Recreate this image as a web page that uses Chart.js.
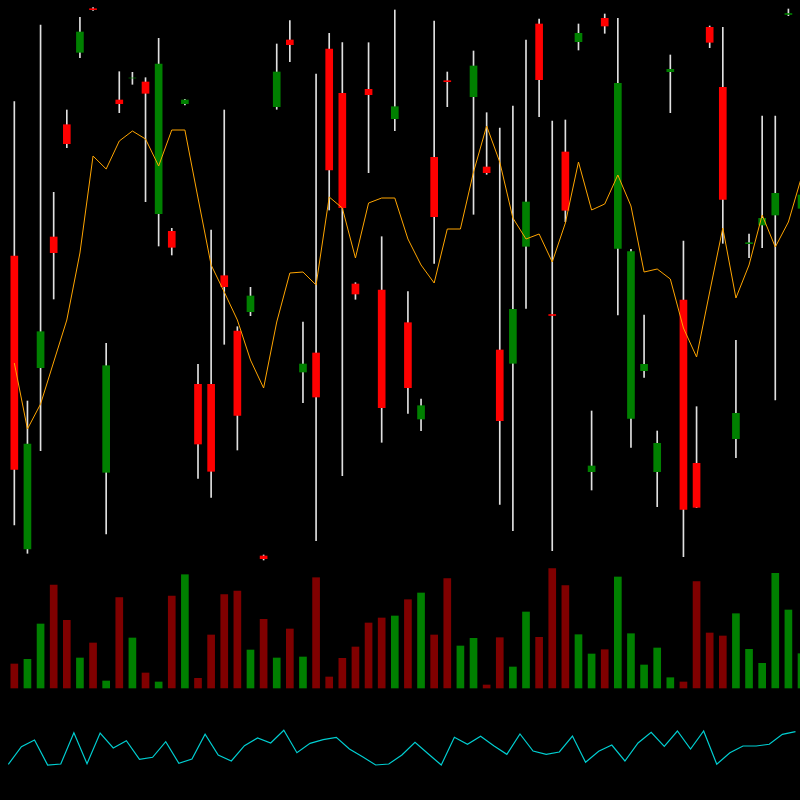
<!DOCTYPE html>
<html>
<head>
<meta charset="utf-8">
<title>Candles</title>
<script src="https://cdn.jsdelivr.net/npm/chart.js@4.4.1/dist/chart.umd.min.js"></script>
<style>
  html, body { margin: 0; padding: 0; background: #000; }
  canvas { display: block; }
</style>
</head>
<body>
<canvas id="priceChart" width="800" height="800"></canvas>
<script>
// candle data, one entry per bar
const opens = [54.4, 25.1, 43.23, 56.3, 67.53, 74.77, 79.13, 32.77, 70, 72.2, 71.8, 58.63, 56.87, 69.63, 41.57, 41.57, 52.43, 46.9, 48.83, 24.4, 69.33, 76, 42.8, 44.7, 75.1, 70.67, 51.6, 71.07, 51, 68.13, 47.73, 38.1, 64.27, 71.93, 81.5, 70.33, 63.3, 45, 43.67, 55.37, 77.6, 48.55, 64.8, 75.83, 32.83, 78.17, 55.17, 38.17, 42.93, 32.83, 72.83, 50, 33.67, 77.27, 71.27, 36.13, 55.63, 57.5, 58.5, 78.55, 59.17];
const highs = [69.83, 39.9, 77.5, 60.77, 69, 78.27, 79.23, 45.67, 72.83, 72.77, 72.23, 76.17, 57.17, 70.07, 43.57, 57, 69, 47.33, 51.27, 24.5, 75.6, 77.93, 47.8, 72.6, 76.67, 75.73, 51.73, 75.73, 56.33, 79, 50.83, 40.1, 77.9, 72.8, 83.5, 74.9, 68.73, 67.2, 69.4, 76, 78.1, 67.9, 68, 77.6, 38.9, 78.6, 78.17, 55.07, 48.5, 36.9, 74.5, 55.9, 39.33, 77.4, 77.27, 45.97, 56.6, 68.4, 68.4, 79.1, 61.5];
const lows = [27.5, 24.67, 34.93, 50.1, 65.23, 74.23, 78.97, 26.6, 68.73, 71.57, 59.83, 55.4, 54.5, 69.5, 32.17, 30.27, 45.57, 35, 48.43, 24, 69.07, 73.83, 39.73, 25.93, 59, 32.43, 50.07, 62.73, 35.77, 66.93, 38.67, 36.93, 53.67, 69.33, 80.8, 58.57, 62.57, 29.57, 26.93, 49.17, 68.33, 24.93, 57.83, 75, 31, 76.67, 48.5, 35.27, 42.27, 29.33, 68.73, 24.33, 29.23, 75.23, 55.67, 34.23, 54.23, 55.23, 40, 78.43, 58.5];
const closes = [33.07, 35.6, 46.83, 54.73, 65.63, 76.8, 79.03, 43.43, 69.63, 72.2, 70.67, 73.6, 55.27, 70, 35.6, 32.87, 51.33, 38.47, 50.4, 24.13, 72.8, 75.53, 43.6, 40.3, 63, 59.23, 50.6, 70.53, 39.23, 69.33, 41.23, 39.43, 58.33, 71.83, 82.5, 73.4, 62.73, 37.93, 49.07, 59.8, 72.03, 48.45, 58.97, 76.67, 33.4, 77.4, 71.67, 54.83, 43.57, 35.67, 73.07, 29.07, 29.27, 75.77, 60.07, 38.67, 55.73, 58.17, 60.67, 78.65, 60.5];
const volumes = [240, 287, 640, 1030, 677, 300, 450, 70, 903, 500, 150, 60, 920, 1133, 97, 530, 933, 970, 380, 687, 300, 590, 310, 1103, 110, 297, 410, 650, 700, 720, 883, 950, 530, 1093, 420, 497, 30, 503, 210, 760, 507, 1193, 1023, 533, 340, 383, 1110, 543, 230, 400, 103, 60, 1063, 550, 520, 743, 387, 247, 1147, 780, 343];
// orange moving average over the candles
const maValues = [43.7, 37.1, 39.6, 43.8, 48, 54.7, 64.4, 63.1, 65.9, 66.9, 66.1, 63.4, 67, 67, 60.2, 53.5, 50.8, 48, 44, 41.2, 47.8, 52.7, 52.8, 51.5, 60.3, 59.2, 54.2, 59.7, 60.2, 60.2, 56.1, 53.5, 51.7, 57.1, 57.1, 62.8, 67.4, 63.8, 58.2, 56.1, 56.6, 53.8, 57.7, 63.8, 59, 59.6, 62.5, 59.4, 52.8, 53.1, 52.1, 47.2, 44.3, 50.8, 57.2, 50.2, 53.5, 58.5, 55.3, 57.8, 62.3];
// cyan oscillator at the bottom
const oscValues = [35.7, 53.3, 60, 35, 36, 67.3, 36.3, 67, 52, 59.3, 40.7, 42.7, 58.3, 36.7, 41, 65.7, 45, 39, 54.3, 62, 57, 69.7, 47.3, 56.7, 60.3, 62.7, 51, 43.3, 35, 36, 45, 57.7, 46.3, 35, 62.7, 55.7, 63.7, 54.3, 45.7, 66, 49, 45.7, 48, 64, 37.7, 48.7, 55, 39, 57, 67.7, 53.7, 69, 51, 69, 35.7, 47.3, 54, 54, 55.7, 65.7, 68.3];
const oscShift = -0.46;

function isUp(i) {
    return closes[i] >= opens[i];
}

function buildChart() {
    const canvas = document.getElementById('priceChart');

    const wickData = highs.map((h, i) => ({ x: i, y: [lows[i], h] }));
    const bodyData = opens.map((o, i) => ({ x: i, y: [o, closes[i]] }));
    const bodyColors = opens.map((o, i) => isUp(i) ? '#008000' : '#ff0000');
    const volData = volumes.map((v, i) => ({ x: i, y: v }));
    const volColors = volumes.map((v, i) => isUp(i) ? '#008000' : '#800000');
    const maData = maValues.map((v, i) => ({ x: i, y: v }));
    const oscData = oscValues.map((v, i) => ({ x: i + oscShift, y: v }));

    new Chart(canvas, {
        type: 'bar',
        data: {
            datasets: [
                {
                    label: 'Wick',
                    data: wickData,
                    backgroundColor: '#e0e0e0',
                    borderWidth: 0,
                    barThickness: 1,
                    grouped: false,
                    yAxisID: 'y',
                    order: 5
                },
                {
                    label: 'Body',
                    data: bodyData,
                    backgroundColor: bodyColors,
                    borderWidth: 0,
                    barThickness: 7,
                    grouped: false,
                    yAxisID: 'y',
                    order: 4
                },
                {
                    label: 'Volume',
                    data: volData,
                    backgroundColor: volColors,
                    borderWidth: 0,
                    barThickness: 7,
                    grouped: false,
                    yAxisID: 'yVol',
                    order: 4
                },
                {
                    type: 'line',
                    label: 'MA',
                    data: maData,
                    borderColor: '#ffa500',
                    borderWidth: 1,
                    pointRadius: 0,
                    tension: 0,
                    yAxisID: 'y',
                    order: 1
                },
                {
                    type: 'line',
                    label: 'Osc',
                    data: oscData,
                    borderColor: '#00ced1',
                    borderWidth: 1.2,
                    pointRadius: 0,
                    tension: 0,
                    yAxisID: 'yOsc',
                    order: 1
                }
            ]
        },
        options: {
            responsive: false,
            animation: false,
            devicePixelRatio: 1,
            layout: { padding: 0 },
            plugins: {
                legend: { display: false },
                tooltip: { enabled: false }
            },
            scales: {
                x: {
                    type: 'linear',
                    display: false,
                    offset: false,
                    min: -1.092,
                    max: 59.884
                },
                y: { display: false, min: 0, max: 80 },
                yVol: { display: false, min: -1120, max: 6880 },
                yOsc: { display: false, min: 0, max: 800 }
            }
        }
    });
}

buildChart();
</script>
</body>
</html>
